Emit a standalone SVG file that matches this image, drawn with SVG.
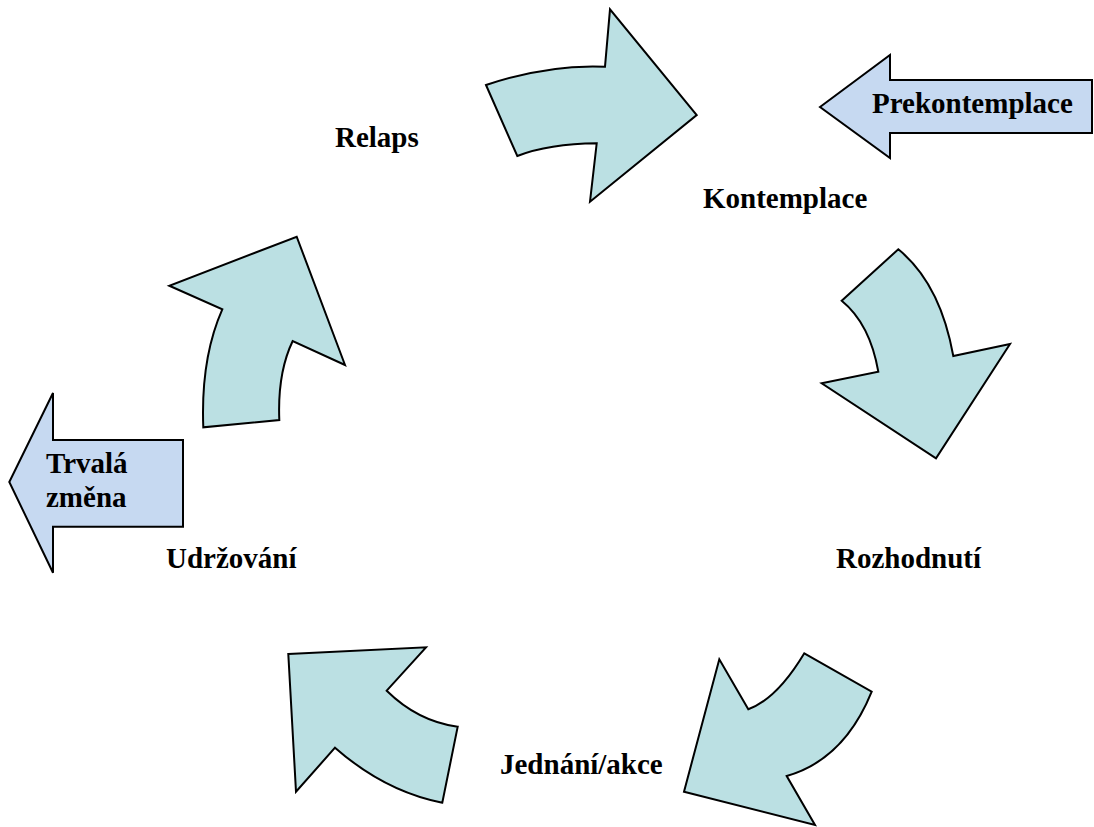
<svg xmlns="http://www.w3.org/2000/svg" width="1094" height="827" viewBox="0 0 1094 827">
<style>
.ca{fill:#BBE0E3;stroke:#000;stroke-width:2;stroke-linejoin:miter}
.ba{fill:#C6D9F1;stroke:#000;stroke-width:2}
.t{font-family:"Liberation Serif","Times New Roman",serif;font-weight:bold;font-size:29px;fill:#000}
</style>
<rect width="1094" height="827" fill="#fff"/>
<g id="connectors">
<path id="arrow-relaps-kontemplace" class="ca" d="M486,85 Q547.9,64.2 605,66.7 L610,9.3 L696.7,115 L590,201.7 L596.7,143.3 Q549,143.8 517.3,156 Z"/>
<path id="arrow-kontemplace-rozhodnuti" class="ca" d="M898.3,249.3 Q940.2,283.4 953.3,356 L1010,344 L936,458.3 L821.7,383.3 L878.3,371.7 Q870,323.8 841.7,300.7 Z"/>
<path id="arrow-rozhodnuti-jednani" class="ca" d="M804.3,653.3 L871.7,691.7 Q844.2,759.6 786.7,776 L815,825 L684,791.7 L719.3,659.3 L748.3,709.3 Q777.1,698.7 804.3,653.3 Z"/>
<path id="arrow-jednani-udrzovani" class="ca" d="M288.3,654 L426,647.3 L386.7,690.7 Q417.8,721.3 457.7,726.7 L442.3,802.7 Q384.8,791.4 335,747.7 L296,791.7 Z"/>
<path id="arrow-udrzovani-relaps" class="ca" d="M203.3,427.3 Q200.6,358.3 222.3,309.3 L169.3,285.7 L296.7,236.7 L345,365 L292.7,341 Q277.4,372.9 279.3,420 Z"/>
</g>
<g id="node-kontemplace"><text class="t" x="703" y="208">Kontemplace</text></g>
<g id="node-relaps"><text class="t" x="335" y="147">Relaps</text></g>
<g id="node-rozhodnuti"><text class="t" x="836" y="568">Rozhodnutí</text></g>
<g id="node-udrzovani"><text class="t" x="166" y="568">Udržování</text></g>
<g id="node-jednani"><text class="t" x="500" y="774">Jednání/akce</text></g>
<g id="node-prekontemplace">
<path class="ba" d="M820,107 L890,55 L890,80 L1092,80 L1092,133 L890,133 L890,158 Z"/>
<text class="t" x="872" y="113">Prekontemplace</text>
</g>
<g id="node-trvala-zmena">
<path class="ba" d="M9.3,482 L53,393 L53,440 L183,440 L183,526.7 L53,526.7 L53,572.7 Z"/>
<text class="t" x="46" y="473">Trvalá</text>
<text class="t" x="46" y="507">změna</text>
</g>
</svg>
